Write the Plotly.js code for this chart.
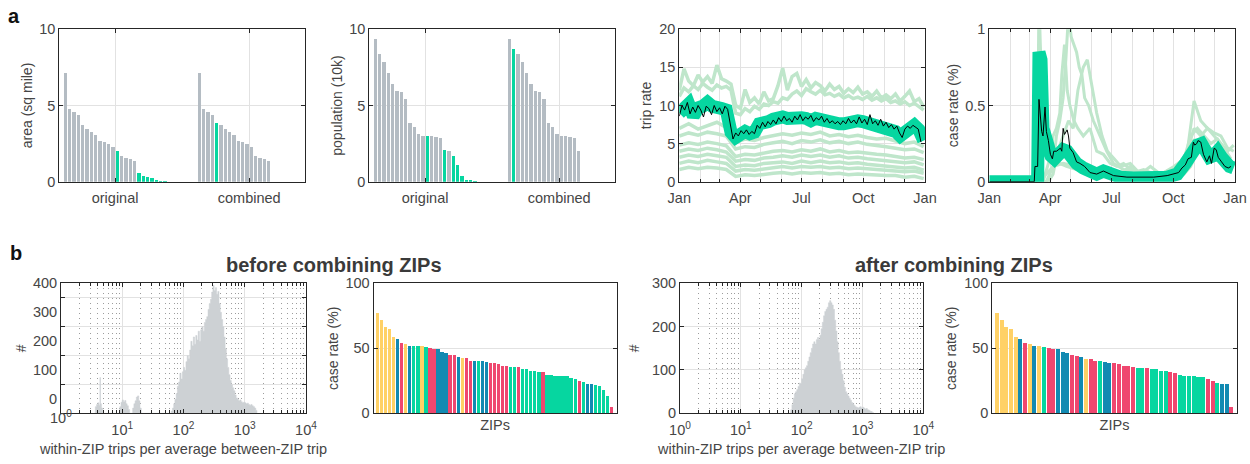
<!DOCTYPE html>
<html><head><meta charset="utf-8">
<script src="https://cdn.plot.ly/plotly-3.0.1.min.js"></script>
<style>html,body{margin:0;padding:0;background:#fff}#chart{width:1250px;height:464px}</style>
</head><body><div id="chart"></div>
<script>
// ================= DATA =================
const groupLabels = ['original', 'combined'];

// panel a1: area (sq mile); flag 1 = highlighted (green) ZIP
const areaOriginal = [7.11,4.77,4.55,4.38,3.70,3.44,3.24,3.04,2.65,2.58,2.47,2.30,2.01,1.71,1.58,1.49,1.38,0.57,0.39,0.28,0.24,0.11,0.07,0.04];
const areaOriginalFlag = [0,0,0,0,0,0,0,0,0,0,0,0,1,0,0,0,0,1,1,1,1,1,1,1];
const areaCombined = [7.11,4.77,4.55,4.38,3.85,3.70,3.44,3.24,3.04,2.65,2.58,2.47,2.30,1.71,1.58,1.49,1.38];
const areaCombinedFlag = [0,0,0,0,1,0,0,0,0,0,0,0,0,0,0,0,0];

// panel a2: population (10k)
const popOriginal = [9.37,8.36,7.88,7.11,6.41,5.97,5.91,5.40,3.85,3.59,3.11,3.02,3.02,3.00,2.93,2.87,2.08,2.01,1.71,1.09,0.37,0.11,0.09,0.07];
const popOriginalFlag = [0,0,0,0,0,0,0,0,0,0,0,0,1,0,0,0,1,0,1,1,1,1,1,1];
const popCombined = [9.37,8.71,8.36,7.88,7.11,6.41,5.97,5.91,5.40,3.85,3.59,3.11,3.02,3.00,2.93,2.87,2.01];
const popCombinedFlag = [0,1,0,0,0,0,0,0,0,0,0,0,0,0,0,0,0];

// panel a3: trip rate of individual ZIPs
const tripWeeklyDays = [0,7,14,21,28,35,42,49,56,63,70,77,84,91,98,105,112,119,126,133,140,147,154,161,168,175,182,189,196,203,210,217,224,231,238,245,252,259,266,273,280,287,294,301,308,315,322,329,336,343,350,357,364];
const tripZip1 = [12.0,14.8,13.2,12.6,14.0,13.1,13.8,12.9,15.3,13.5,13.2,12.8,10.0,9.6,12.1,10.4,11.0,10.2,11.8,10.6,10.9,12.6,14.9,12.0,13.8,14.2,12.5,13.4,12.3,13.0,12.6,11.9,12.8,12.1,12.5,11.6,12.2,11.7,12.4,11.5,11.8,11.2,11.9,11.0,11.4,10.9,11.5,10.6,11.2,11.9,10.5,10.9,9.8];
const tripZip2 = [11.2,12.3,11.8,12.6,12.1,12.9,12.4,12.0,12.7,12.3,12.5,12.0,9.0,8.8,9.6,9.2,9.9,9.5,10.2,10.0,10.5,10.3,11.0,10.8,11.5,11.9,11.3,12.2,11.8,11.5,12.0,11.4,11.6,11.2,11.5,11.0,11.3,10.9,11.1,10.8,11.2,10.7,11.0,10.6,10.9,10.4,10.6,10.2,10.5,10.0,10.3,9.9,9.4];
const tripLightDays = [0,14,28,42,56,70,84,98,112,126,140,154,168,182,196,210,224,238,252,266,280,294,308,322,336,350,364];
const tripZip3 = [7.0,7.6,6.9,7.3,7.8,7.1,5.2,5.6,5.4,5.8,6.0,6.3,6.1,6.4,6.2,6.5,6.0,6.2,5.9,6.1,5.8,5.6,5.7,5.3,5.0,5.2,4.6];
const tripZip4 = [6.0,6.4,6.1,6.5,6.3,6.0,4.3,4.6,4.5,4.9,5.1,5.3,5.0,5.4,5.2,5.5,5.1,5.3,5.0,5.2,4.9,4.8,4.6,4.4,4.2,4.3,3.8];
const tripZip5 = [4.8,5.1,4.9,5.2,5.0,4.7,3.3,3.6,3.5,3.8,4.0,4.1,3.9,4.2,4.0,4.3,3.9,4.1,3.8,3.9,3.7,3.6,3.5,3.3,3.1,3.2,2.9];
const tripZip6 = [4.0,4.3,4.1,4.4,4.2,3.9,2.7,2.9,2.8,3.1,3.2,3.4,3.2,3.5,3.3,3.5,3.2,3.4,3.1,3.2,3.0,2.9,2.8,2.7,2.5,2.6,2.2];
const tripZip7 = [3.2,3.5,3.3,3.6,3.4,3.2,2.0,2.2,2.1,2.4,2.5,2.6,2.4,2.7,2.5,2.7,2.5,2.6,2.4,2.5,2.3,2.2,2.1,2.0,1.8,1.9,1.5];
const tripZip8 = [2.4,2.7,2.5,2.8,2.6,2.4,1.4,1.6,1.5,1.7,1.8,2.0,1.8,2.0,1.9,2.0,1.8,1.9,1.7,1.8,1.7,1.6,1.5,1.5,1.3,1.4,1.1];
const tripZip9 = [1.6,1.9,1.7,1.9,1.8,1.6,0.7,0.9,0.8,1.0,1.1,1.2,1.0,1.2,1.1,1.2,1.0,1.1,0.9,1.0,0.9,0.9,0.8,0.8,0.6,0.7,0.4];
// smoothed (weekly samples) and every-4-days combined trip rate
const tripSmooth = [9.0,9.8,10.2,8.6,9.7,9.9,10.4,9.9,9.5,9.6,9.4,6.5,5.8,6.4,6.6,6.3,6.5,7.6,7.6,7.9,8.2,8.4,8.5,8.3,8.4,8.6,8.4,8.3,8.0,8.3,8.1,7.9,7.8,7.7,7.6,7.6,7.8,7.9,8.0,7.9,7.7,7.9,7.5,7.4,7.2,7.0,6.6,6.0,6.4,7.2,7.4,6.8,5.4];
const tripBlackDays = [0,4,8,12,16,20,24,28,32,36,40,44,48,52,56,60,64,68,72,76,80,84,88,92,96,100,104,108,112,116,120,124,128,132,136,140,144,148,152,156,160,164,168,172,176,180,184,188,192,196,200,204,208,212,216,220,224,228,232,236,240,244,248,252,256,260,264,268,272,276,280,284,288,292,296,300,304,308,312,316,320,324,328,332,336,340,344,348,352,356,360];
const tripBlack = [8.6,10.0,9.4,10.4,8.9,9.8,9.1,10.0,9.4,8.5,9.9,9.6,8.8,10.0,9.2,9.7,8.9,9.9,9.5,7.5,5.6,6.4,6.0,6.7,6.3,6.8,6.2,6.6,6.3,7.4,7.0,7.8,7.2,7.9,7.5,8.1,7.6,8.4,7.9,8.6,8.0,8.3,7.8,8.6,8.1,8.8,8.0,8.5,8.2,8.7,7.9,8.4,8.1,8.6,7.8,8.3,7.7,8.0,7.6,7.9,7.5,8.0,7.6,8.3,7.7,8.1,7.6,8.5,7.7,8.2,7.5,8.8,7.6,8.0,7.4,8.2,7.3,7.8,7.1,7.5,6.9,7.3,6.4,5.8,6.9,7.3,7.0,7.4,7.1,6.9,5.2];

// panel a4: case rate (%), day-of-year samples
const caseZipA_days = [0,70,72,74,76,78,80,84,88,92,98,105,115,130,150,180,220,260,290,300,310,320,335,350,364];
const caseZipA = [0,0,0.3,1.2,0.9,0.6,0.45,0.35,0.25,0.2,0.15,0.12,0.1,0.08,0.05,0.03,0.02,0.02,0.05,0.1,0.2,0.25,0.2,0.15,0.12];
const caseZipB_days = [0,85,95,100,105,110,114,118,122,126,130,134,138,142,148,155,165,175,185,200,230,260,280,295,305,315,325,335,345,355,364];
const caseZipB = [0,0,0.1,0.3,0.4,0.55,0.8,1.1,0.95,0.9,0.85,0.75,0.7,0.55,0.5,0.4,0.3,0.2,0.12,0.08,0.05,0.04,0.08,0.2,0.53,0.4,0.35,0.32,0.3,0.22,0.2];
const caseZipC_days = [0,80,90,95,100,105,108,112,116,120,126,132,140,150,160,170,180,190,200,215,230,245,260,275,290,300,310,320,330,340,350,360];
const caseZipC = [0,0,0.15,0.3,0.35,0.45,0.7,0.9,0.6,0.5,0.4,0.35,0.3,0.35,0.2,0.18,0.12,0.1,0.12,0.06,0.08,0.05,0.06,0.1,0.15,0.3,0.35,0.3,0.25,0.28,0.22,0.15];
const caseZipD_days = [0,88,95,102,110,118,125,132,140,146,152,160,168,176,186,196,210,225,240,255,270,285,295,305,315,325,335,345,355,364];
const caseZipD = [0,0,0.05,0.2,0.3,0.4,0.35,0.6,0.75,0.8,0.65,0.45,0.3,0.2,0.15,0.1,0.12,0.05,0.1,0.05,0.08,0.12,0.2,0.35,0.3,0.35,0.3,0.25,0.2,0.24];
const caseZipE_days = [0,75,85,95,110,130,150,170,190,210,230,250,270,290,300,305,310,320,330,340,350,360];
const caseZipE = [0,0,0.05,0.1,0.12,0.1,0.08,0.05,0.04,0.1,0.03,0.02,0.03,0.08,0.2,0.28,0.22,0.18,0.2,0.15,0.18,0.1];
const caseSmooth_days = [0,72,74,77,80,84,88,92,97,104,110,116,122,130,140,150,160,170,180,195,215,240,265,280,287,292,298,304,310,316,322,328,334,340,346,352,358,364];
const caseSmooth = [0,0,0.85,0.8,0.35,0.25,0.2,0.17,0.15,0.19,0.21,0.2,0.15,0.12,0.09,0.06,0.05,0.07,0.05,0.03,0.025,0.025,0.03,0.05,0.08,0.12,0.16,0.21,0.24,0.25,0.2,0.16,0.17,0.2,0.16,0.12,0.1,0.09];
const caseBlack_days = [0,67,68,70,72,74,76,78,80,82,83,85,88,91,94,96,100,103,106,108,110,112,114,116,118,120,125,130,135,142,150,160,170,175,185,205,225,245,265,274,282,287,292,296,301,304,306,309,311,315,319,324,328,331,335,338,341,346,351,356,360];
const caseBlack = [0,0,0.1,0.1,0.1,0.54,0.4,0.33,0.3,0.45,0.49,0.33,0.27,0.18,0.15,0.2,0.2,0.21,0.22,0.2,0.35,0.31,0.33,0.34,0.3,0.22,0.19,0.13,0.12,0.1,0.06,0.05,0.07,0.06,0.04,0.03,0.03,0.03,0.04,0.05,0.06,0.09,0.11,0.15,0.16,0.26,0.24,0.25,0.27,0.26,0.18,0.13,0.17,0.12,0.22,0.21,0.16,0.13,0.1,0.09,0.1];

// panel b1/b3: histogram outlines (log10 of ratio, count)
const beforeLogX = [0.54,0.56,0.58,0.60,0.62,0.635,0.645,0.66,0.68, 0.94,0.96,0.98,1.00,1.02,1.04,1.06,1.08,1.10,1.12, 1.15,1.17,1.19,1.21,1.23,1.25,1.27,1.29,1.31,
  1.78,1.80,1.82,1.84,1.86,1.88,1.90,1.92,1.94,1.96,1.98,2.00,2.02,2.04,2.06,2.08,2.10,2.12,2.14,2.16,2.18,2.20,2.22,2.24,2.26,2.28,2.30,2.32,2.34,2.36,2.38,2.40,2.42,2.44,2.46,2.48,2.50,2.52,2.54,2.56,2.58,2.60,2.62,2.64,2.66,2.68,2.70,2.72,2.74,2.76,2.78,2.80,2.82,2.84,2.86,2.88,2.90,2.92,2.94,2.96,2.98,3.00,3.02,3.04,3.06,3.08,3.10,3.12,3.14,3.16,3.18,3.20];
const beforeCount = [-48,-25,-18,-12,-20,75,-15,-30,-48, -48,-25,-10,-2,-8,-4,-15,-22,-35,-48, -48,-30,-15,-5,8,12,-5,-30,-48,
  -48,-40,-30,-15,0,20,45,60,90,70,95,110,100,130,150,140,170,200,185,215,190,220,205,235,200,240,250,235,265,275,285,310,330,345,370,392,375,385,362,372,330,300,275,250,215,175,140,110,85,65,50,40,30,15,5,0,-5,-2,-8,-12,-10,-12,-15,-13,-18,-20,-18,-22,-25,-30,-38,-48];
const afterLogX = [1.80,1.82,1.84,1.86,1.88,1.90,1.92,1.94,1.96,1.98,2.00,2.02,2.04,2.06,2.08,2.10,2.12,2.14,2.16,2.18,2.20,2.22,2.24,2.26,2.28,2.30,2.32,2.34,2.36,2.38,2.40,2.42,2.44,2.46,2.48,2.50,2.52,2.54,2.56,2.58,2.60,2.62,2.64,2.66,2.68,2.70,2.72,2.74,2.76,2.78,2.80,2.82,2.84,2.86,2.88,2.90,2.92,2.94,2.96,2.98,3.00,3.02,3.04,3.06,3.08,3.10,3.12,3.14,3.16,3.18];
const afterCount = [0,8,20,35,45,50,55,62,70,68,80,90,100,105,110,120,130,140,150,160,165,160,170,175,170,180,195,210,225,235,240,245,255,260,255,250,240,215,190,165,140,120,100,90,75,60,50,45,40,35,30,25,22,18,15,14,12,14,15,12,14,12,10,11,8,7,5,4,2,0];

// panel b2/b4: case rate (%) per ZIP, sorted; colour group codes
const zipCaseBefore = [77,72,66,65,59,57,54,53,52,52,52,52,51,50,49.5,49.5,47.5,46,45,44.5,43.5,42.5,42.5,40.5,40,40,40,39.5,39,38.5,38,36.5,36.3,35.6,35.4,35.3,34.2,34,32.8,32.6,31.6,31.5,29.6,29.2,28.9,28.8,28.8,28.6,27,26.4,25.2,23.8,22.8,22.7,21.4,21.2,18,13.6,5.2];
const zipGroupBefore = 'YYYYYBRYBGGYGRRBBBRRBYRRBGBBRRRRRGGRGGGGGRGGGGGGGGRGBBGGGGR'.split('');
const zipCaseAfter = [77,72,66,65,59,57,54,53,52,52,51,50,49.5,49.5,47,46,45,44,43,42,42,40,40,39.5,39,38.7,38,36.7,36.2,35.7,35.2,35.2,34.7,34.1,33.8,32.5,32.5,31.5,31.3,29.5,29,28.7,28.5,28.2,28.2,26.4,25.1,23.5,22.7,22.5,5.2];
const zipGroupAfter = 'YYYYYBRYBYGRRBBBRRBYRRGBBRRRRRGGRGGGGRRGGGGGGRRGBBR'.split('');

// ================= STYLE / LAYOUT =================
const W = 1250, H = 464;
const GRAYBAR = '#b4bcc3', GREEN = '#06d6a0', PALE = '#bfe6cb', HIST = '#cdd1d4';
const GROUPCOL = {Y: '#ffd166', B: '#118ab2', R: '#ef476f', G: '#06d6a0'};
const FONT = 'Liberation Sans, Arial, Helvetica, sans-serif';
const TXT = '#454545', AXC = '#262626', GRID = '#e2e2e2';
const xd = (a, b) => [a / W, b / W];
const yd = (top, bottom) => [1 - bottom / H, 1 - top / H];
const dayDate = d => new Date(Date.UTC(2020, 0, 1) + d * 86400000).toISOString().slice(0, 10);

function ax(extra) {
  return Object.assign({
    showline: true, linecolor: AXC, linewidth: 1, mirror: 'ticks',
    ticks: 'inside', ticklen: 4, tickcolor: AXC,
    tickfont: {size: 14.5, color: TXT, family: FONT},
    showgrid: true, gridcolor: GRID, zeroline: false, fixedrange: true
  }, extra);
}
function ttl(text, standoff, size) {
  return {text: text, font: {size: size || 14, color: TXT, family: FONT}, standoff: standoff};
}
function note(text, px, py, size, color) {
  return {text: text, x: px / W, y: 1 - py / H, xref: 'paper', yref: 'paper', xanchor: 'center', yanchor: 'middle',
    showarrow: false, font: {size: size, color: color, family: FONT}};
}

const ORIG_START = 1, COMB_START = 32;
const groupTicks = [12.5, 43.5];
const flagColor = f => f.map(v => v ? GREEN : GRAYBAR);
const idx = (arr, start) => arr.map((_, i) => start + i);

const traces = [];
function barPair(orig, origFlag, comb, combFlag, xa, ya) {
  traces.push({type: 'bar', x: idx(orig, ORIG_START), y: orig, width: 0.78,
    marker: {color: flagColor(origFlag), line: {width: 0}}, xaxis: xa, yaxis: ya, hoverinfo: 'skip'});
  traces.push({type: 'bar', x: idx(comb, COMB_START), y: comb, width: 0.78,
    marker: {color: flagColor(combFlag), line: {width: 0}}, xaxis: xa, yaxis: ya, hoverinfo: 'skip'});
}
barPair(areaOriginal, areaOriginalFlag, areaCombined, areaCombinedFlag, 'x', 'y');
barPair(popOriginal, popOriginalFlag, popCombined, popCombinedFlag, 'x2', 'y2');

// a3
[tripZip1, tripZip2].forEach(s => {
  traces.push({type: 'scatter', mode: 'lines', x: tripWeeklyDays.map(dayDate), y: s,
    line: {color: PALE, width: 3.5}, xaxis: 'x3', yaxis: 'y3', hoverinfo: 'skip'});
});
[tripZip3, tripZip4, tripZip5, tripZip6, tripZip7, tripZip8, tripZip9].forEach(s => {
  traces.push({type: 'scatter', mode: 'lines', x: tripLightDays.map(dayDate), y: s,
    line: {color: PALE, width: 3.5}, xaxis: 'x3', yaxis: 'y3', hoverinfo: 'skip'});
});
traces.push({type: 'scatter', mode: 'lines', x: tripWeeklyDays.map(dayDate), y: tripSmooth,
  line: {color: GREEN, width: 13}, xaxis: 'x3', yaxis: 'y3', hoverinfo: 'skip'});
traces.push({type: 'scatter', mode: 'lines', x: tripBlackDays.map(dayDate), y: tripBlack,
  line: {color: '#000', width: 1}, xaxis: 'x3', yaxis: 'y3', hoverinfo: 'skip'});

// a4
[[caseZipA_days, caseZipA], [caseZipB_days, caseZipB], [caseZipC_days, caseZipC], [caseZipD_days, caseZipD], [caseZipE_days, caseZipE]].forEach(p => {
  traces.push({type: 'scatter', mode: 'lines', x: p[0].map(dayDate), y: p[1],
    line: {color: PALE, width: 3}, xaxis: 'x4', yaxis: 'y4', hoverinfo: 'skip'});
});
traces.push({type: 'scatter', mode: 'lines', x: caseSmooth_days.map(dayDate), y: caseSmooth,
  line: {color: GREEN, width: 13}, xaxis: 'x4', yaxis: 'y4', hoverinfo: 'skip'});
traces.push({type: 'scatter', mode: 'lines', x: caseBlack_days.map(dayDate), y: caseBlack,
  line: {color: '#000', width: 1}, xaxis: 'x4', yaxis: 'y4', hoverinfo: 'skip'});

// b1 / b3 histograms (closed stepped outlines)
function hist(logs, counts, base, xa, ya) {
  const xs = [Math.pow(10, logs[0])].concat(logs.map(l => Math.pow(10, l)), [Math.pow(10, logs[logs.length - 1])]);
  const ys = [base].concat(counts, [base]);
  traces.push({type: 'scatter', mode: 'lines', x: xs, y: ys, fill: 'toself', fillcolor: HIST,
    line: {color: HIST, width: 0.5, shape: 'hv'}, xaxis: xa, yaxis: ya, hoverinfo: 'skip'});
}
hist(beforeLogX, beforeCount, -48, 'x5', 'y5');
hist(afterLogX, afterCount, 0, 'x7', 'y7');

// b2 / b4 bars
traces.push({type: 'bar', x: idx(zipCaseBefore, 1), y: zipCaseBefore, width: 0.82,
  marker: {color: zipGroupBefore.map(g => GROUPCOL[g]), line: {width: 0}}, xaxis: 'x6', yaxis: 'y6', hoverinfo: 'skip'});
traces.push({type: 'bar', x: idx(zipCaseAfter, 1), y: zipCaseAfter, width: 0.86,
  marker: {color: zipGroupAfter.map(g => GROUPCOL[g]), line: {width: 0}}, xaxis: 'x8', yaxis: 'y8', hoverinfo: 'skip'});

// axes
const rowA = yd(29.3, 181.7), rowB = yd(283.3, 413.3);
const monthMinor = {dtick: 'M1', tick0: '2020-01-01', ticks: 'inside', ticklen: 3, tickcolor: AXC, showgrid: true, gridcolor: GRID};
const dateTicks = ['2020-01-01', '2020-04-01', '2020-07-01', '2020-10-01', '2021-01-01'];
const dateText = ['Jan', 'Apr', 'Jul', 'Oct', 'Jan'];
const decades = [1, 10, 100, 1000];
const logMinor = [];
decades.forEach(d => { for (let k = 2; k <= 9; k++) logMinor.push(d * k); });
const logMinorCfg = {tickmode: 'array', tickvals: logMinor, ticks: 'inside', ticklen: 3, tickcolor: AXC,
  showgrid: true, gridcolor: '#9c9c9c', griddash: '1px,4px', gridwidth: 1};
const supText = ['10<sup>1</sup>', '10<sup>2</sup>', '10<sup>3</sup>', '10<sup>4</sup>'];
const histTitle = 'within-ZIP trips per average between-ZIP trip';

const layout = {
  width: W, height: H, margin: {l: 0, r: 0, t: 0, b: 0},
  paper_bgcolor: '#fff', plot_bgcolor: '#fff', showlegend: false, bargap: 0,
  font: {family: FONT, color: TXT},
  // a1
  xaxis: ax({domain: xd(59.3, 305), anchor: 'y', range: [-0.4, 56.4], tickmode: 'array', tickvals: groupTicks, ticktext: groupLabels, ticklabelstandoff: 3}),
  yaxis: ax({domain: rowA, anchor: 'x', range: [0, 10], tickvals: [0, 5, 10], title: ttl('area (sq mile)', 3)}),
  // a2
  xaxis2: ax({domain: xd(369.3, 615), anchor: 'y2', range: [-0.4, 56.4], tickmode: 'array', tickvals: groupTicks, ticktext: groupLabels, ticklabelstandoff: 3}),
  yaxis2: ax({domain: rowA, anchor: 'x2', range: [0, 10], tickvals: [0, 5, 10], title: ttl('population (10k)', 3)}),
  // a3
  xaxis3: ax({domain: xd(679.3, 925), anchor: 'y3', type: 'date', range: ['2020-01-01', '2021-01-01'], tickmode: 'array', tickvals: dateTicks, ticktext: dateText, minor: monthMinor, ticklabelstandoff: 3}),
  yaxis3: ax({domain: rowA, anchor: 'x3', range: [0, 20], tickvals: [0, 5, 10, 15, 20], title: ttl('trip rate', 4)}),
  // a4
  xaxis4: ax({domain: xd(989.3, 1235), anchor: 'y4', type: 'date', range: ['2020-01-01', '2021-01-01'], tickmode: 'array', tickvals: dateTicks, ticktext: dateText, minor: monthMinor, ticklabelstandoff: 3}),
  yaxis4: ax({domain: rowA, anchor: 'x4', range: [0, 1], tickvals: [0, 0.5, 1], ticktext: ['0', '0.5', '1'], title: ttl('case rate (%)', 3)}),
  // b1
  xaxis5: ax({domain: xd(61, 306), anchor: 'y5', type: 'log', range: [0, 4], tickmode: 'array', tickvals: [10, 100, 1000, 10000], ticktext: supText,
    minor: logMinorCfg, ticklabelstandoff: 3, title: ttl(histTitle, 7, 14.5)}),
  yaxis5: ax({domain: rowB, anchor: 'x5', range: [-48, 400], tickmode: 'array', tickvals: [0, 100, 200, 300, 400], ticks: '', showgrid: false,
    minor: {tickmode: 'array', tickvals: [50, 150, 250, 350], ticks: 'inside', ticklen: 4, tickcolor: AXC, showgrid: true, gridcolor: GRID},
    title: ttl('#', 2)}),
  // b2
  xaxis6: ax({domain: xd(373.5, 616.7), anchor: 'y6', range: [0, 60.3], showticklabels: false, ticks: '', showgrid: false, title: ttl('ZIPs', 6, 14.5)}),
  yaxis6: ax({domain: rowB, anchor: 'x6', range: [0, 100], tickvals: [0, 50, 100], title: ttl('case rate (%)', 3)}),
  // b3
  xaxis7: ax({domain: xd(680, 923.3), anchor: 'y7', type: 'log', range: [0, 4], tickmode: 'array', tickvals: [1, 10, 100, 1000, 10000],
    ticktext: ['10<sup>0</sup>'].concat(supText), minor: logMinorCfg, ticklabelstandoff: 3, title: ttl(histTitle, 7, 14.5)}),
  yaxis7: ax({domain: rowB, anchor: 'x7', range: [0, 300], tickvals: [0, 100, 200, 300], title: ttl('#', 8)}),
  // b4
  xaxis8: ax({domain: xd(992.3, 1236.7), anchor: 'y8', range: [0, 52.15], showticklabels: false, ticks: '', showgrid: false, title: ttl('ZIPs', 6, 14.5)}),
  yaxis8: ax({domain: rowB, anchor: 'x8', range: [0, 100], tickvals: [0, 50, 100], title: ttl('case rate (%)', 4)}),
  annotations: [
    note('<b>a</b>', 14, 16, 20, '#111'),
    note('<b>b</b>', 16, 253, 20, '#111'),
    note('<b>before combining ZIPs</b>', 334, 265, 20, '#3a3a3a'),
    note('<b>after combining ZIPs</b>', 954, 265, 20, '#3a3a3a'),
    note('10<sup>0</sup>', 61, 417, 14.5, TXT)
  ]
};

Plotly.newPlot('chart', traces, layout, {staticPlot: true, displayModeBar: false});
</script>
</body></html>
